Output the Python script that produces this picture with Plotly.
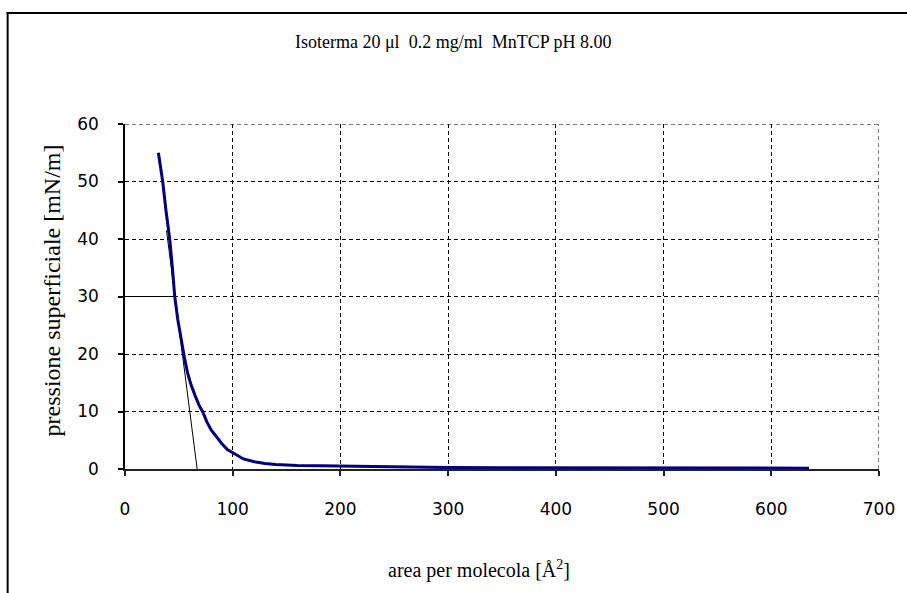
import plotly.graph_objects as go

# Isotherm data (area per molecule [Å^2], surface pressure [mN/m])
area = [31, 33, 35, 38, 41.5, 44, 46.2, 49, 52, 55, 58, 61, 65, 69, 72, 76, 80,
        85, 90, 95, 100, 105, 110, 120, 130, 140, 150, 160, 180, 200, 210, 250,
        300, 350, 400, 450, 500, 550, 600, 635]
pressure = [55, 52.5, 50, 45, 40, 35, 30, 26, 22.5, 19.5, 16.8, 14.8, 12.8, 11,
            10, 8.2, 6.8, 5.5, 4.4, 3.4, 2.8, 2.2, 1.75, 1.25, 0.95, 0.8, 0.65,
            0.6, 0.55, 0.5, 0.35, 0.3, 0.25, 0.22, 0.2, 0.2, 0.18, 0.17, 0.15,
            0.15]

# Tangent (limiting area) construction
tangent_x = [38.5, 67]
tangent_y = [41.5, 0]
level_x = [0, 46]
level_y = [30, 30]

x_ticks = [0, 100, 200, 300, 400, 500, 600, 700]
y_ticks = [0, 10, 20, 30, 40, 50, 60]

title_text = "Isoterma 20 μl  0.2 mg/ml  MnTCP pH 8.00"
x_title = "area per molecola [Å<sup>2</sup>]"
y_title = "pressione superficiale [mN/m]"

serif = "Liberation Serif, Times New Roman, serif"
sans = "DejaVu Sans, Liberation Sans, sans-serif"

fig = go.Figure()
fig.add_trace(go.Scatter(x=level_x, y=level_y, mode="lines",
                         line=dict(color="black", width=1), showlegend=False))
fig.add_trace(go.Scatter(x=tangent_x, y=tangent_y, mode="lines",
                         line=dict(color="black", width=1), showlegend=False))
fig.add_trace(go.Scatter(x=area, y=pressure, mode="lines",
                         line=dict(color="#000080", width=3, shape="linear"),
                         showlegend=False))

W, H = 907, 593
L, R, T, B = 125, 24, 124, 124
pw, ph = W - L - R, H - T - B

def px_to_paper_x(px):
    return (px - L) / pw

def py_to_paper_y(py):
    return (H - B - py) / ph

grid_dash = "4px,3px"

fig.update_layout(
    width=W, height=H,
    margin=dict(l=L, r=R, t=T, b=B),
    paper_bgcolor="white", plot_bgcolor="white",
    xaxis=dict(range=[0, 700], tickvals=x_ticks, ticktext=[str(v) for v in x_ticks],
               showgrid=True, gridcolor="black", griddash=grid_dash, gridwidth=1,
               zeroline=False, showline=True, linecolor="#222", linewidth=1.5,
               ticks="outside", ticklen=5, tickcolor="#222", tickwidth=1.5,
               ticklabelstandoff=19,
               tickfont=dict(family=sans, size=17, color="black")),
    yaxis=dict(range=[0, 60], tickvals=y_ticks, ticktext=[str(v) for v in y_ticks],
               showgrid=True, gridcolor="black", griddash=grid_dash, gridwidth=1,
               zeroline=False, showline=True, linecolor="black", linewidth=1.5,
               ticks="outside", ticklen=5, tickcolor="black", tickwidth=1.5,
               ticklabelstandoff=16,
               tickfont=dict(family=sans, size=17, color="black")),
    annotations=[
        dict(text=title_text, xref="paper", yref="paper",
             x=px_to_paper_x(455), y=py_to_paper_y(42),
             xanchor="center", yanchor="middle", showarrow=False,
             font=dict(family=serif, size=18, color="black")),
        dict(text=x_title, xref="paper", yref="paper",
             x=px_to_paper_x(481), y=py_to_paper_y(569),
             xanchor="center", yanchor="middle", showarrow=False,
             font=dict(family=serif, size=20, color="black")),
        dict(text=y_title, xref="paper", yref="paper", textangle=-90,
             x=px_to_paper_x(52), y=py_to_paper_y(290),
             xanchor="center", yanchor="middle", showarrow=False,
             font=dict(family=serif, size=24, color="black")),
    ],
    shapes=[
        # far-edge grid lines (x = 700, y = 60)
        dict(type="line", xref="x", yref="y", x0=700, x1=700, y0=0, y1=60,
             line=dict(color="black", width=1, dash=grid_dash), layer="below"),
        dict(type="line", xref="x", yref="y", x0=0, x1=700, y0=60, y1=60,
             line=dict(color="black", width=1, dash=grid_dash), layer="below"),
        # outer frame (top and left edges)
        dict(type="line", xref="paper", yref="paper",
             x0=px_to_paper_x(7), x1=px_to_paper_x(7),
             y0=py_to_paper_y(12), y1=py_to_paper_y(600),
             line=dict(color="black", width=2)),
        dict(type="line", xref="paper", yref="paper",
             x0=px_to_paper_x(6), x1=px_to_paper_x(920),
             y0=py_to_paper_y(13), y1=py_to_paper_y(13),
             line=dict(color="black", width=2)),
    ],
)

fig.write_html("out.html")
